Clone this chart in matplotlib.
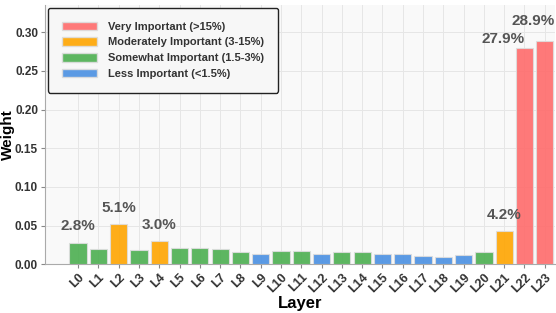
import matplotlib.pyplot as plt
from matplotlib.patches import Patch

layers = [f"L{i}" for i in range(24)]
weights = [
    0.028, 0.020, 0.0515, 0.018, 0.0305, 0.021, 0.0205, 0.020,
    0.016, 0.0135, 0.017, 0.017, 0.0128, 0.0157, 0.0157, 0.0135,
    0.013, 0.011, 0.0095, 0.0115, 0.0157, 0.0425, 0.279, 0.289,
]
labeled = {0: "2.8%", 2: "5.1%", 4: "3.0%", 21: "4.2%", 22: "27.9%", 23: "28.9%"}

COLORS = {
    "very": "#FF6B6B",
    "moderate": "#FFA500",
    "somewhat": "#4CAF50",
    "less": "#4A90E2",
}
LEGEND = [
    ("very", "Very Important (>15%)"),
    ("moderate", "Moderately Important (3-15%)"),
    ("somewhat", "Somewhat Important (1.5-3%)"),
    ("less", "Less Important (<1.5%)"),
]


def level(w):
    if w > 0.15:
        return "very"
    if w >= 0.03:
        return "moderate"
    if w >= 0.015:
        return "somewhat"
    return "less"


plt.rcParams["font.family"] = ["Liberation Sans", "DejaVu Sans"]

fig = plt.figure(figsize=(5.56, 3.13), dpi=100)
ax = fig.add_axes([0.081, 0.156, 0.917, 0.828])
ax.set_facecolor("#f9f9f9")

xs = list(range(len(layers)))
colors = [COLORS[level(w)] for w in weights]
ax.bar(xs, weights, width=0.85, color=colors, alpha=0.9,
       edgecolor="#dddddd", linewidth=0.8, zorder=3)

# percentage labels: (dx, dy) in points, horizontal alignment
placement = {22: (0, 2, "right"), 23: (7.5, 9.5, "right")}
for i, txt in labeled.items():
    dx, dy, ha = placement.get(i, (0, 6.5, "center"))
    ax.annotate(txt, (xs[i], weights[i]), xytext=(dx, dy), textcoords="offset points",
                ha=ha, va="bottom", fontsize=11, fontweight="bold",
                color="#555555", zorder=4, annotation_clip=False)

ax.set_xlim(-1.63, 23.5)
ax.set_ylim(0, 0.289 * 1.16)
ax.set_xticks(xs)
ax.set_xticklabels(layers, rotation=45, ha="right", rotation_mode="anchor",
                   fontsize=9, fontweight="bold", color="#333333")
ax.set_yticks([0, 0.05, 0.10, 0.15, 0.20, 0.25, 0.30])
ax.set_yticklabels([f"{v:.2f}" for v in ax.get_yticks()],
                   fontsize=8.5, fontweight="bold", color="#333333")
ax.tick_params(axis="both", length=3, color="#888888")
ax.tick_params(axis="x", pad=2)
ax.tick_params(axis="y", pad=2)

ax.grid(True, color="#e6e6e6", linewidth=0.7, zorder=0)
ax.set_axisbelow(True)
for side in ("top", "right"):
    ax.spines[side].set_visible(False)
for side in ("left", "bottom"):
    ax.spines[side].set_color("#aaaaaa")
    ax.spines[side].set_linewidth(0.8)

ax.set_xlabel("Layer", fontsize=12, fontweight="heavy", labelpad=1)
ax.set_ylabel("Weight", fontsize=11, fontweight="heavy")
ax.yaxis.set_label_coords(-0.058, 0.5)

handles = [Patch(facecolor=COLORS[k], alpha=0.9, edgecolor="#dddddd") for k, _ in LEGEND]
leg = ax.legend(handles, [t for _, t in LEGEND], loc="upper left",
                bbox_to_anchor=(0.0, 1.0), borderaxespad=0.25, fontsize=8,
                frameon=True, fancybox=True, handlelength=3.2, handleheight=0.8,
                borderpad=1.25, labelspacing=0.5, handletextpad=1.0)
leg.get_frame().set_edgecolor("#222222")
leg.get_frame().set_linewidth(1.0)
leg.get_frame().set_facecolor("#f7f7f7")
leg.get_frame().set_alpha(1.0)
for t in leg.get_texts():
    t.set_fontweight("bold")
    t.set_color("#333333")

fig.savefig("out.png", dpi=100)
